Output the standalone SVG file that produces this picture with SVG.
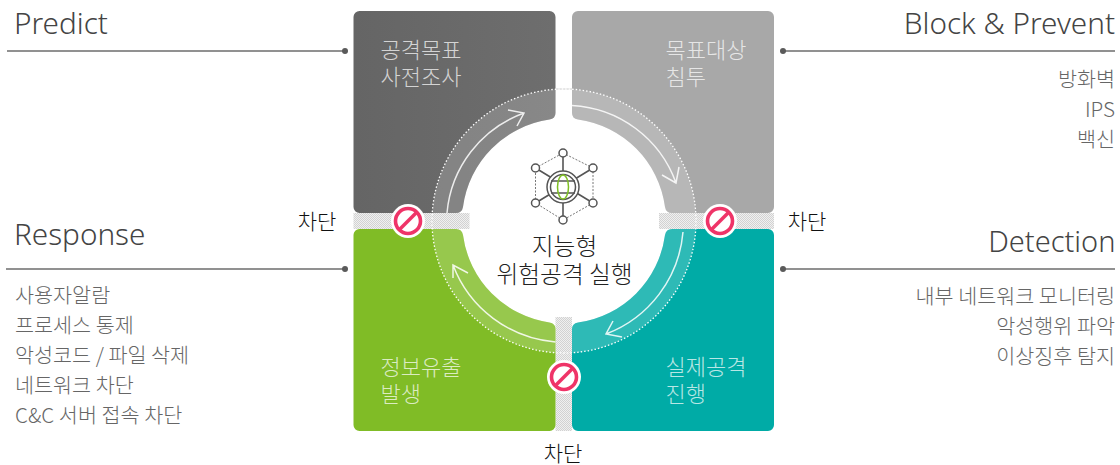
<svg xmlns="http://www.w3.org/2000/svg" width="1120" height="465" viewBox="0 0 1120 465">
<style>
text{font-family:"Noto Sans CJK KR","Noto Sans",sans-serif}
.h{font-family:"Noto Sans","Noto Sans CJK KR",sans-serif;font-size:29.7px;font-weight:300;fill:#444}
.l{font-size:20.7px;font-weight:300;fill:#666}
.t{font-size:22px;font-weight:300;fill:#fff;fill-opacity:.72}
.c{font-size:21px;font-weight:300;fill:#111;text-anchor:middle}
.m{font-size:23.7px;font-weight:300;fill:#222;text-anchor:middle}
.r{text-anchor:end}
.rule{stroke:#6e6e6e;stroke-width:1.4;fill:none}
.dot{fill:#5a5a5a}
.arr{fill:none;stroke:#fff;stroke-width:1.5;stroke-opacity:.85}
.band{fill:#fff;fill-opacity:.18}
.node{fill:#fff;stroke:#555;stroke-width:1.5}
.dash{fill:none;stroke:#777;stroke-width:1;stroke-dasharray:2 1.5}
.sp{stroke:#555;stroke-width:1.6;fill:none}
</style>
<defs>
<pattern id="hatch" width="2" height="2" patternUnits="userSpaceOnUse"><rect width="2" height="2" fill="#f0f0f0"/><rect width="1" height="1" fill="#d2d2d2"/><rect x="1" y="1" width="1" height="1" fill="#d2d2d2"/></pattern>
<linearGradient id="gd" x1="0" y1="0" x2="1" y2="0"><stop offset="0" stop-color="#656565"/><stop offset="1" stop-color="#6e6e6e"/></linearGradient>
<clipPath id="ring"><circle cx="564" cy="221" r="132"/></clipPath>
<g id="no"><circle r="17" fill="#fff"/><circle r="12.5" fill="#fff" stroke="#ef3468" stroke-width="3.6"/><path d="M-8.5 8.5L8.5-8.5" stroke="#ef3468" stroke-width="3.6"/></g>
<path id="tl" d="M359.5 11H549.5a6 6 0 0 1 6 6V113Q555.5 118.500 549.500 119.500A102 102 0 0 0 463 207Q462 213 456 213H359.500a6 6 0 0 1-6-6V17a6 6 0 0 1 6-6Z"/>
<path id="tr" d="M768 11H578a6 6 0 0 0-6 6V113Q572 118.500 578 119.500A102 102 0 0 1 665 207Q666 213 672 213H768a6 6 0 0 0 6-6V17a6 6 0 0 0-6-6Z"/>
<path id="bl" d="M359.5 431H549.500a6 6 0 0 0 6-6V329Q555.500 323.500 549.500 322.500A102 102 0 0 1 463 235Q462 229 456 229H359.500a6 6 0 0 0-6 6V425a6 6 0 0 0 6 6Z"/>
<path id="br" d="M768 431H578a6 6 0 0 1-6-6V329Q572 323.500 578 322.500A102 102 0 0 0 665 235Q666 229 672 229H768a6 6 0 0 1 6 6V425a6 6 0 0 1-6 6Z"/>
</defs>
<rect width="1120" height="465" fill="#fff"/>
<g id="gaps">
<rect x="353.500" y="213" width="116" height="16" fill="url(#hatch)"/>
<rect x="659" y="213" width="115" height="16" fill="url(#hatch)"/>
<rect x="555.500" y="317" width="16.500" height="114" fill="url(#hatch)"/>
</g>
<g id="node-recon"><use href="#tl" fill="url(#gd)"/><g clip-path="url(#ring)"><use href="#tl" class="band"/></g>
<text class="t" x="380.500" y="58">공격목표</text><text class="t" x="380.500" y="85">사전조사</text></g>
<g id="node-intrusion"><use href="#tr" fill="#a8a8a8"/><g clip-path="url(#ring)"><use href="#tr" class="band"/></g>
<text class="t" x="665.500" y="58">목표대상</text><text class="t" x="665.500" y="85">침투</text></g>
<g id="node-leak"><use href="#bl" fill="#80bc26"/><g clip-path="url(#ring)"><use href="#bl" class="band"/></g>
<text class="t" x="380.500" y="375">정보유출</text><text class="t" x="380.500" y="402">발생</text></g>
<g id="node-attack"><use href="#br" fill="#00aba6"/><g clip-path="url(#ring)"><use href="#br" class="band"/></g>
<text class="t" x="665.500" y="375">실제공격</text><text class="t" x="665.500" y="402">진행</text></g>
<g id="connectors">
<path d="M555.500 89H572" fill="none" stroke="#ccc" stroke-width="1"/>
<circle cx="564" cy="221" r="132" fill="none" stroke="#fff" stroke-width="1.300" stroke-dasharray="1.500 2"/>
<path class="arr" d="M447 213A117 117 0 0 1 524 113M508 110L524 113L517 126"/>
<path class="arr" d="M572 105.500A117 117 0 0 1 676 183M662 175L676 183L679 167"/>
<path class="arr" d="M683 232A120 120 0 0 1 606 334M613 321L606 334L622 337"/>
<path class="arr" d="M555.500 342A120 120 0 0 1 453 265M453 278L453 265L468 273"/>
<path class="rule" d="M7 51H345M783 51H1115M6 269H345M783 269H1115"/>
<circle class="dot" cx="345" cy="51" r="3"/><circle class="dot" cx="783" cy="51" r="3"/><circle class="dot" cx="345" cy="269" r="3"/><circle class="dot" cx="783" cy="269" r="3"/>
</g>
<g id="block-left"><use href="#no" x="408" y="221"/><text class="c" x="317" y="229">차단</text></g>
<g id="block-right"><use href="#no" x="720" y="221"/><text class="c" x="807" y="229">차단</text></g>
<g id="block-bottom"><use href="#no" x="564" y="377"/><text class="c" x="563" y="461">차단</text></g>
<g id="center">
<path class="dash" d="M563 153L593 168M593 168V203M593 203L563 220M563 220L535.500 203M535.500 203V168M535.500 168L563 153"/>
<path class="sp" d="M563 153V220M535.500 168L593 203M593 168L535.500 203"/>
<circle cx="563" cy="187" r="16" fill="#fff" stroke="#555" stroke-width="1.500"/>
<circle cx="563" cy="187" r="12.500" fill="#fff" stroke="#555" stroke-width="1.500"/>
<path class="sp" d="M551 181H575M551 193H575" stroke-width="1.200"/>
<ellipse cx="563" cy="187" rx="5.500" ry="12" fill="none" stroke="#7fbf25" stroke-width="1.500"/>
<circle class="node" cx="563" cy="153" r="4"/><circle class="node" cx="563" cy="220" r="4"/><circle class="node" cx="535.500" cy="168" r="4"/><circle class="node" cx="593" cy="168" r="4"/><circle class="node" cx="535.500" cy="203" r="4"/><circle class="node" cx="593" cy="203" r="4"/>
<text class="m" x="564.500" y="255">지능형</text><text class="m" x="564.500" y="283">위험공격 실행</text>
</g>
<g id="predict"><text class="h" x="14" y="34">Predict</text></g>
<g id="block-prevent"><text class="h r" x="1115" y="34">Block &amp; Prevent</text>
<text class="l r" x="1115" y="87">방화벽</text><text class="l r" x="1115" y="117">IPS</text><text class="l r" x="1115" y="147">백신</text></g>
<g id="response"><text class="h" x="14" y="245">Response</text>
<text class="l" x="15" y="303">사용자알람</text><text class="l" x="15" y="333">프로세스 통제</text><text class="l" x="15" y="363">악성코드 / 파일 삭제</text><text class="l" x="15" y="393">네트워크 차단</text><text class="l" x="15" y="423">C&amp;C 서버 접속 차단</text></g>
<g id="detection"><text class="h r" x="1115.500" y="252" style="font-size:29px">Detection</text>
<text class="l r" x="1115" y="304">내부 네트워크 모니터링</text><text class="l r" x="1115" y="334">악성행위 파악</text><text class="l r" x="1115" y="364">이상징후 탐지</text></g>
</svg>
